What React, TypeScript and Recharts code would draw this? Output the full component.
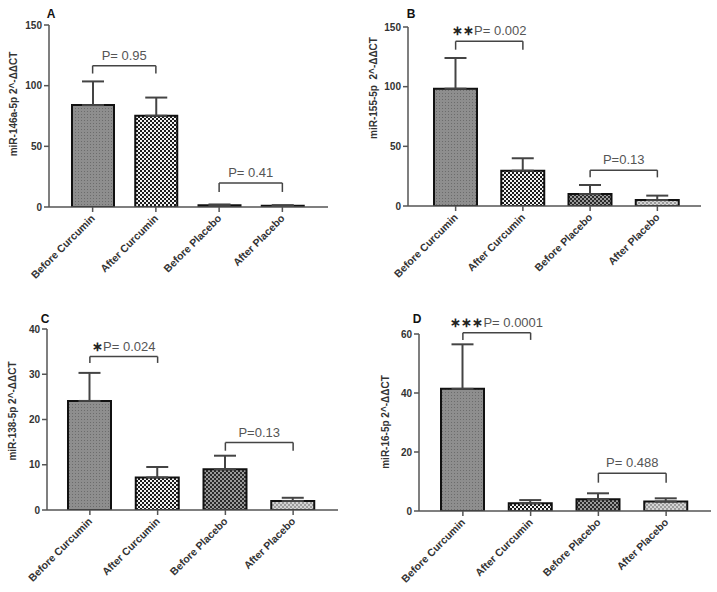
import React from 'react';
import { BarChart, Bar, XAxis, YAxis, ErrorBar, Cell, ReferenceLine } from 'recharts';

const categories = ['Before Curcumin', 'After Curcumin', 'Before Placebo', 'After Placebo'];

const valuesA = [84, 75.2, 1.5, 1.0];
const errorsA = [19.5, 15, 0.6, 0.5];
const valuesB = [98.3, 29.6, 10, 5];
const errorsB = [25.7, 10.4, 7.6, 3.7];
const valuesC = [24.1, 7.2, 9.0, 2.0];
const errorsC = [6.2, 2.3, 3.0, 0.7];
const valuesD = [41.4, 2.6, 4.0, 3.2];
const errorsD = [15.1, 1.1, 2.0, 1.1];

const ticksA = [0, 50, 100, 150];
const ticksB = [0, 50, 100, 150];
const ticksC = [0, 10, 20, 30, 40];
const ticksD = [0, 20, 40, 60];

const yLabelA = 'miR-146a-5p 2^-ΔΔCT';
const yLabelB = 'miR-155-5p  2^-ΔΔCT';
const yLabelC = 'miR-138-5p 2^-ΔΔCT';
const yLabelD = 'miR-16-5p 2^-ΔΔCT';

type Bracket = { from: number; to: number; top: number; leg: number; stars: string; label: string };

const bracketsA: Bracket[] = [
  { from: 0, to: 1, top: 116.5, leg: 110, stars: '', label: 'P= 0.95' },
  { from: 2, to: 3, top: 19.8, leg: 12.4, stars: '', label: 'P= 0.41' },
];
const bracketsB: Bracket[] = [
  { from: 0, to: 1, top: 138, leg: 131, stars: '∗∗', label: 'P= 0.002' },
  { from: 2, to: 3, top: 30, leg: 24, stars: '', label: 'P=0.13' },
];
const bracketsC: Bracket[] = [
  { from: 0, to: 1, top: 33.9, leg: 32.5, stars: '∗', label: 'P= 0.024' },
  { from: 2, to: 3, top: 14.9, leg: 13.1, stars: '', label: 'P=0.13' },
];
const bracketsD: Bracket[] = [
  { from: 0, to: 1, top: 60.4, leg: 58, stars: '∗∗∗', label: 'P= 0.0001' },
  { from: 2, to: 3, top: 12.8, leg: 9.6, stars: '', label: 'P= 0.488' },
];

const FONT = 'Arial, "Liberation Sans", sans-serif';
const AXIS = '#555';

function Patterns({ id }: { id: string }) {
  return (
    <defs>
      <pattern id={`${id}-p0`} width="3" height="3" patternUnits="userSpaceOnUse">
        <rect width="3" height="3" fill="#8e8e8e" />
        <rect width="1" height="1" fill="#6c6c6c" />
      </pattern>
      <pattern id={`${id}-p1`} width="4" height="4" patternUnits="userSpaceOnUse">
        <rect width="4" height="4" fill="#1c1c1c" />
        <rect x="0" y="0" width="2" height="2" fill="#f2f2f2" />
        <rect x="2" y="2" width="2" height="2" fill="#f2f2f2" />
      </pattern>
      <pattern id={`${id}-p2`} width="4" height="4" patternUnits="userSpaceOnUse">
        <rect width="4" height="4" fill="#2a2a2a" />
        <rect x="0" y="0" width="2" height="2" fill="#9a9a9a" />
        <rect x="2" y="2" width="2" height="2" fill="#9a9a9a" />
      </pattern>
      <pattern id={`${id}-p3`} width="4" height="4" patternUnits="userSpaceOnUse">
        <rect width="4" height="4" fill="#9c9c9c" />
        <rect x="0" y="0" width="2" height="2" fill="#d4d4d4" />
        <rect x="2" y="2" width="2" height="2" fill="#d4d4d4" />
      </pattern>
    </defs>
  );
}

function XTick(props: any) {
  const { x, y, payload } = props;
  return (
    <g transform={`translate(${x + 3},${y + 5})`}>
      <text
        x={0}
        y={0}
        textAnchor="end"
        transform="rotate(-45)"
        fontSize={10.5}
        fontWeight="bold"
        fill="#333"
        fontFamily={FONT}
      >
        {payload.value}
      </text>
    </g>
  );
}

function makeBracketLabel(b: Bracket) {
  return (props: any) => {
    const vb = props.viewBox || {};
    const cx = (vb.x || 0) + (vb.width || 0) / 2;
    const cy = (vb.y || 0) - 6;
    return (
      <text x={cx} y={cy} textAnchor="middle" fontSize={13} fill="#555" fontFamily={FONT}>
        {b.stars ? (
          <tspan fontWeight="bold" fill="#222">
            {b.stars}
          </tspan>
        ) : null}
        <tspan>{b.label}</tspan>
      </text>
    );
  };
}

type PanelProps = {
  id: string;
  letter: string;
  yLabel: string;
  values: number[];
  errors: number[];
  ticks: number[];
  brackets: Bracket[];
  left: number;
  top: number;
  width: number;
  height: number;
  margin: { top: number; right: number; left: number; bottom: number };
  padding: { left: number; right: number };
  barSize: number;
  labelX: number;
  labelY: number;
  letterX: number;
  letterY: number;
};

function Panel(p: PanelProps) {
  const data = categories.map((c, i) => ({ name: c, value: p.values[i], err: [0, p.errors[i]] }));
  const max = p.ticks[p.ticks.length - 1];
  const labelContent = () => (
    <g>
      <text
        x={p.labelX}
        y={p.labelY}
        transform={`rotate(-90 ${p.labelX} ${p.labelY})`}
        textAnchor="middle"
        fontSize={10}
        fontWeight="bold"
        fill="#333"
        fontFamily={FONT}
        style={{ whiteSpace: 'pre' }}
      >
        {p.yLabel}
      </text>
      <text
        x={p.letterX}
        y={p.letterY}
        textAnchor="middle"
        fontSize={12}
        fontWeight="bold"
        fill="#111"
        fontFamily={FONT}
      >
        {p.letter}
      </text>
    </g>
  );
  return (
    <div style={{ position: 'absolute', left: p.left, top: p.top }}>
      <BarChart width={p.width} height={p.height} data={data} margin={p.margin}>
        <Patterns id={p.id} />
        <XAxis
          dataKey="name"
          interval={0}
          height={80}
          padding={p.padding}
          stroke={AXIS}
          strokeWidth={1.5}
          tickSize={5}
          tickLine={{ stroke: AXIS, strokeWidth: 1.5 }}
          tick={<XTick />}
        />
        <YAxis
          width={40}
          domain={[0, max]}
          ticks={p.ticks}
          interval={0}
          allowDataOverflow
          stroke={AXIS}
          strokeWidth={1.5}
          tickSize={5}
          tickLine={{ stroke: AXIS, strokeWidth: 1.5 }}
          tick={{ fontSize: 10, fontWeight: 'bold', fill: '#333', fontFamily: FONT }}
          label={{ content: labelContent }}
        />
        <Bar dataKey="value" barSize={p.barSize} stroke="#111" strokeWidth={2} isAnimationActive={false}>
          {data.map((d, i) => (
            <Cell key={d.name} fill={`url(#${p.id}-p${i})`} />
          ))}
          <ErrorBar dataKey="err" width={11} stroke="#444" strokeWidth={2} direction="y" isAnimationActive={false} />
        </Bar>
        {p.brackets.map((b, i) => (
          <ReferenceLine
            key={`h${i}`}
            segment={[
              { x: categories[b.from], y: b.top },
              { x: categories[b.to], y: b.top },
            ]}
            stroke="#444"
            strokeWidth={1.5}
            ifOverflow="visible"
            label={{ content: makeBracketLabel(b) }}
          />
        ))}
        {p.brackets.map((b, i) => (
          <ReferenceLine
            key={`l${i}`}
            segment={[
              { x: categories[b.from], y: b.top },
              { x: categories[b.from], y: b.leg },
            ]}
            stroke="#444"
            strokeWidth={1.5}
            ifOverflow="visible"
          />
        ))}
        {p.brackets.map((b, i) => (
          <ReferenceLine
            key={`r${i}`}
            segment={[
              { x: categories[b.to], y: b.top },
              { x: categories[b.to], y: b.leg },
            ]}
            stroke="#444"
            strokeWidth={1.5}
            ifOverflow="visible"
          />
        ))}
      </BarChart>
    </div>
  );
}

export default function App() {
  return (
    <div
      style={{
        position: 'absolute',
        left: 0,
        top: 0,
        width: 717,
        height: 592,
        background: '#fff',
        fontFamily: FONT,
        overflow: 'hidden',
      }}
    >
      <Panel
        id="pa"
        letter="A"
        yLabel={yLabelA}
        values={valuesA}
        errors={errorsA}
        ticks={ticksA}
        brackets={bracketsA}
        left={0}
        top={0}
        width={340}
        height={290}
        margin={{ top: 25, right: 12, left: 9, bottom: 3 }}
        padding={{ left: 12, right: 14 }}
        barSize={42}
        labelX={17}
        labelY={104}
        letterX={51}
        letterY={18}
      />
      <Panel
        id="pb"
        letter="B"
        yLabel={yLabelB}
        values={valuesB}
        errors={errorsB}
        ticks={ticksB}
        brackets={bracketsB}
        left={358}
        top={0}
        width={359}
        height={290}
        margin={{ top: 27, right: 16, left: 10, bottom: 4 }}
        padding={{ left: 14, right: 10 }}
        barSize={43}
        labelX={19}
        labelY={88}
        letterX={53}
        letterY={18}
      />
      <Panel
        id="pc"
        letter="C"
        yLabel={yLabelC}
        values={valuesC}
        errors={errorsC}
        ticks={ticksC}
        brackets={bracketsC}
        left={0}
        top={290}
        width={350}
        height={302}
        margin={{ top: 39, right: 12, left: 7, bottom: 2 }}
        padding={{ left: 9, right: 11 }}
        barSize={43}
        labelX={16}
        labelY={121}
        letterX={45}
        letterY={33}
      />
      <Panel
        id="pd"
        letter="D"
        yLabel={yLabelD}
        values={valuesD}
        errors={errorsD}
        ticks={ticksD}
        brackets={bracketsD}
        left={358}
        top={290}
        width={359}
        height={302}
        margin={{ top: 44, right: 6, left: 21, bottom: 1 }}
        padding={{ left: 10, right: 11 }}
        barSize={43}
        labelX={31}
        labelY={132}
        letterX={59}
        letterY={33}
      />
    </div>
  );
}
